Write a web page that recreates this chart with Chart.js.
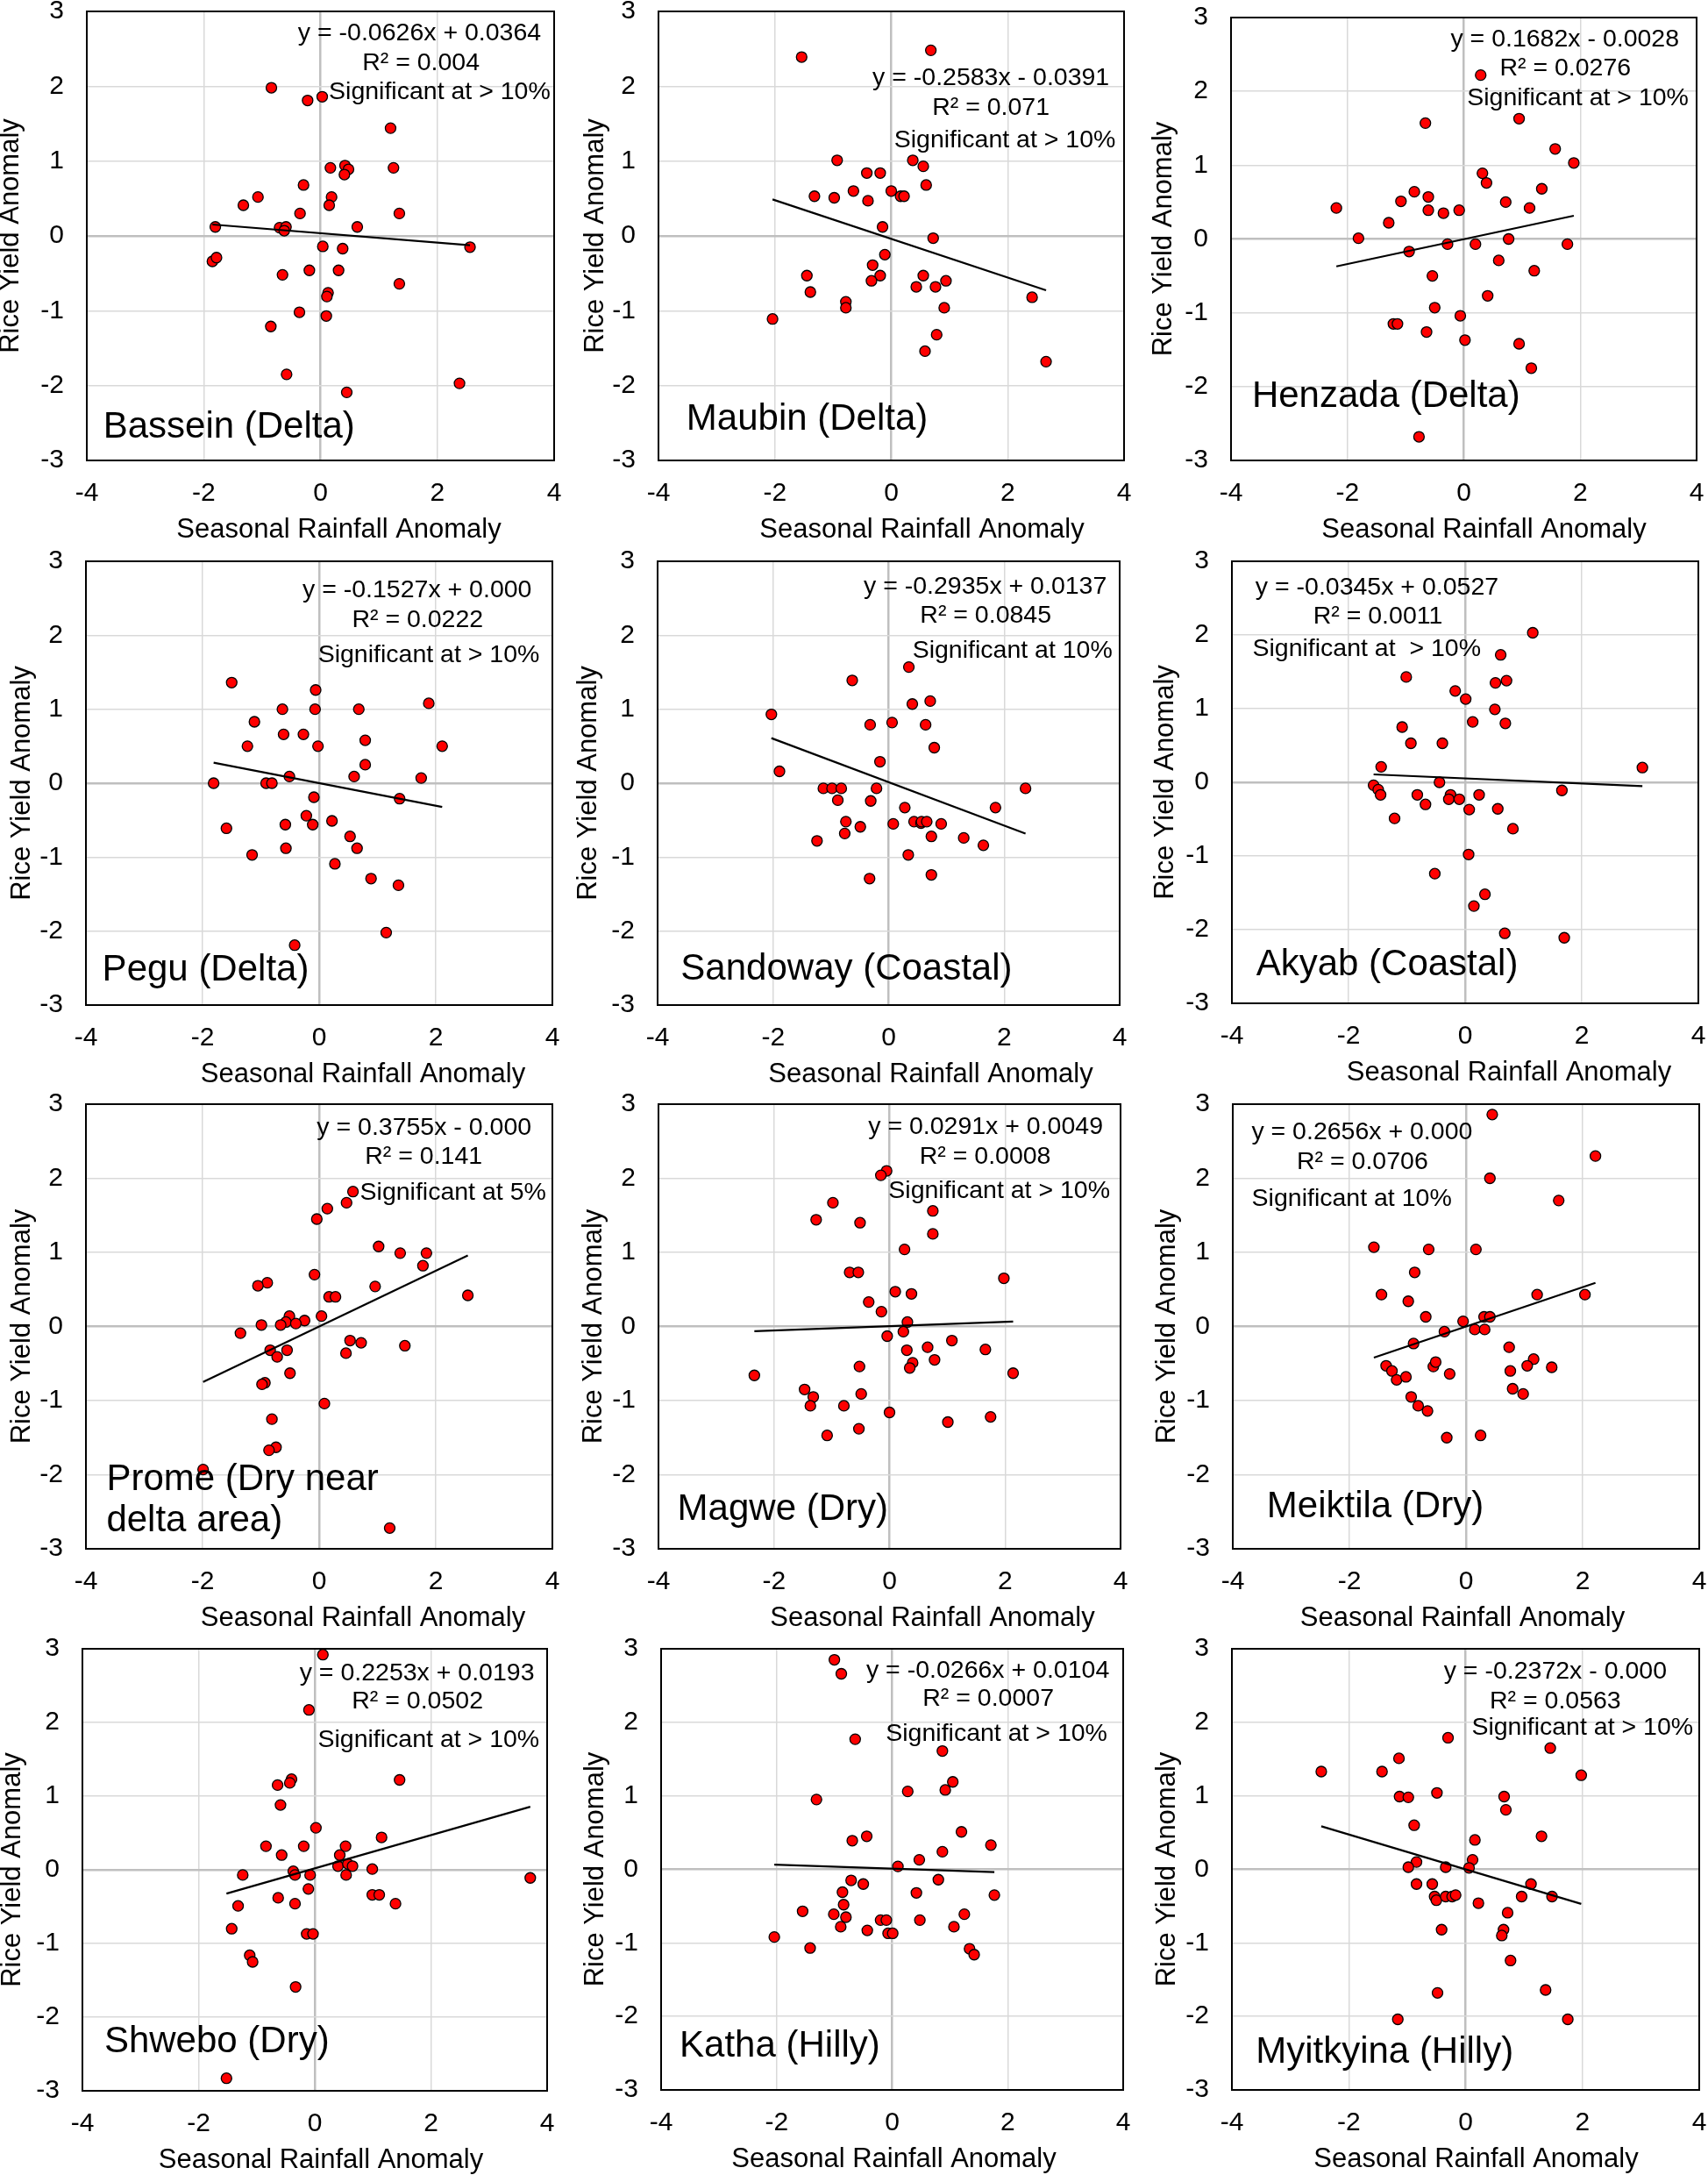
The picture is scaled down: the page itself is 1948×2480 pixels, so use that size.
<!DOCTYPE html>
<html>
<head>
<meta charset="utf-8">
<script src="https://cdn.jsdelivr.net/npm/chart.js@4.4.1/dist/chart.umd.min.js"></script>
<style>
body{margin:0;background:#fff;width:1948px;height:2480px;overflow:hidden;position:relative}
.cell{position:absolute}
</style>
</head>
<body>
<script>
// values: seasonal rainfall anomaly (x) vs rice yield anomaly (y)
const basseinX=[-0.84,-0.22,0.03,1.20,0.17,0.42,0.48,0.41,1.25,-0.29,-1.07,0.19,-1.32,0.15,-0.35,1.35,-1.80,-0.70,-0.59,-0.62,0.63,0.04,0.38,2.56,-1.85,-1.78,-0.65,-0.19,0.31,1.35,0.13,0.11,-0.36,0.10,-0.85,-0.58,0.45,2.38];
const basseinY=[1.98,1.81,1.86,1.44,0.91,0.94,0.89,0.82,0.91,0.68,0.52,0.52,0.41,0.41,0.30,0.30,0.12,0.11,0.12,0.07,0.12,-0.14,-0.17,-0.15,-0.34,-0.29,-0.52,-0.46,-0.46,-0.64,-0.76,-0.81,-1.02,-1.07,-1.21,-1.85,-2.09,-1.97];
const maubinX=[-1.54,0.68,-0.93,0.37,0.55,-0.42,-0.19,0.60,-0.65,0.00,-1.32,-0.98,0.16,0.22,-0.40,-0.15,0.72,-0.11,-0.32,-1.45,-0.19,0.55,-0.34,0.94,-1.39,0.43,0.76,-0.78,-0.78,0.91,-2.04,2.42,0.78,0.58,2.66];
const maubinY=[2.39,2.48,1.01,1.01,0.93,0.84,0.84,0.68,0.60,0.60,0.53,0.51,0.53,0.53,0.47,0.12,-0.03,-0.25,-0.39,-0.53,-0.53,-0.53,-0.60,-0.60,-0.75,-0.68,-0.68,-0.88,-0.96,-0.96,-1.11,-0.82,-1.32,-1.54,-1.68];
const henzadaX=[0.29,0.95,-0.66,1.57,1.89,0.32,0.39,1.34,-0.85,-0.61,-1.08,0.72,-2.19,1.13,-0.61,-0.35,-0.08,-1.29,-1.81,0.77,-0.28,0.20,1.78,-0.94,0.60,1.21,-0.54,0.41,-0.50,-0.06,-1.21,-1.14,-0.64,0.02,0.95,1.16,-0.77];
const henzadaY=[2.22,1.63,1.57,1.22,1.03,0.89,0.76,0.68,0.64,0.57,0.51,0.50,0.42,0.42,0.39,0.35,0.39,0.22,0.01,0.00,-0.07,-0.07,-0.07,-0.17,-0.29,-0.43,-0.50,-0.77,-0.93,-1.04,-1.15,-1.15,-1.26,-1.37,-1.42,-1.75,-2.68];
const peguX=[-1.50,-0.06,1.88,-0.63,-0.07,0.68,-1.11,-0.61,-0.27,0.79,-1.23,-0.02,2.11,0.79,-0.51,0.60,1.75,-1.81,-0.91,-0.81,-0.09,1.38,-0.22,0.22,-1.59,-0.58,-0.11,0.53,-0.57,0.65,-1.15,0.27,0.89,1.36,1.15,-0.42];
const peguY=[1.36,1.26,1.08,1.00,1.00,1.00,0.83,0.66,0.66,0.58,0.50,0.50,0.50,0.25,0.09,0.09,0.07,0.00,0.00,0.00,-0.19,-0.21,-0.44,-0.51,-0.61,-0.56,-0.56,-0.72,-0.88,-0.88,-0.97,-1.09,-1.29,-1.38,-2.02,-2.19];
const sandowayX=[0.35,-0.63,0.72,0.41,-2.03,-0.32,0.06,0.64,0.79,-0.15,-1.89,-1.13,-0.98,-0.82,-0.21,2.37,-0.88,-0.31,0.28,1.85,-0.74,0.44,0.56,0.57,0.66,0.08,0.91,-0.49,-0.76,0.74,1.30,-1.24,1.64,0.34,-0.33,0.74];
const sandowayY=[1.57,1.39,1.11,1.07,0.93,0.79,0.82,0.79,0.48,0.29,0.16,-0.07,-0.07,-0.07,-0.07,-0.07,-0.23,-0.24,-0.33,-0.33,-0.52,-0.52,-0.54,-0.52,-0.52,-0.55,-0.55,-0.59,-0.68,-0.72,-0.74,-0.78,-0.84,-0.97,-1.29,-1.24];
const akyabX=[1.16,0.61,-1.01,0.52,0.71,-0.17,0.01,0.51,0.13,0.69,-1.08,-0.93,-0.39,-1.44,3.04,-0.44,-1.57,-1.49,-1.45,-0.82,-0.25,0.24,-0.28,-0.10,-0.68,0.07,0.56,1.66,-1.21,0.82,0.06,-0.52,0.34,0.15,0.68,1.70];
const akyabY=[2.03,1.73,1.43,1.35,1.38,1.24,1.13,0.99,0.82,0.80,0.75,0.53,0.53,0.21,0.20,0.00,-0.04,-0.10,-0.17,-0.17,-0.17,-0.17,-0.23,-0.23,-0.30,-0.37,-0.36,-0.11,-0.49,-0.63,-0.98,-1.24,-1.52,-1.68,-2.05,-2.11];
const promeX=[0.58,0.47,0.14,-0.04,1.02,1.39,1.84,1.78,-0.08,-0.89,-1.05,0.96,2.55,0.17,0.28,-0.51,0.04,-0.25,-0.57,-0.99,-0.66,-0.40,-1.35,0.53,0.72,1.47,-0.84,-0.55,0.46,-0.72,-0.50,-0.93,-0.98,0.09,-0.81,-0.74,-0.86,-1.99,1.21];
const promeY=[1.82,1.67,1.59,1.45,1.08,0.99,0.99,0.82,0.70,0.59,0.55,0.54,0.42,0.40,0.40,0.14,0.14,0.08,0.06,0.02,0.02,0.04,-0.09,-0.19,-0.22,-0.26,-0.32,-0.32,-0.36,-0.41,-0.63,-0.76,-0.78,-1.04,-1.25,-1.63,-1.67,-1.93,-2.72];
const magweX=[-0.05,-0.15,-0.98,0.75,-1.27,-0.51,0.75,0.26,-0.69,-0.54,1.98,0.10,0.38,-0.36,-0.14,0.31,0.24,-0.04,1.08,0.30,0.66,1.66,0.78,0.40,0.35,-0.52,-2.34,2.14,-1.47,-1.32,-1.37,-0.49,-0.79,0.00,1.75,1.01,-0.53,-1.08];
const magweY=[2.10,2.04,1.67,1.56,1.44,1.40,1.25,1.04,0.73,0.73,0.65,0.47,0.44,0.33,0.20,0.06,-0.07,-0.13,-0.19,-0.32,-0.28,-0.31,-0.45,-0.49,-0.56,-0.54,-0.66,-0.63,-0.85,-0.95,-1.07,-0.91,-1.07,-1.16,-1.22,-1.29,-1.38,-1.47];
const meiktilaX=[0.45,2.22,0.41,1.59,-1.58,-0.64,0.17,-0.88,-1.45,1.22,2.04,-0.99,-0.69,0.31,0.41,-0.05,-0.37,0.15,0.32,-0.90,0.74,-1.37,-1.27,-1.19,-1.03,-0.56,-0.52,-0.28,0.76,1.16,1.05,1.47,0.80,0.98,-0.94,-0.82,-0.66,-0.33,0.25];
const meiktilaY=[2.86,2.30,2.00,1.70,1.07,1.04,1.04,0.73,0.43,0.43,0.43,0.34,0.13,0.13,0.13,0.07,-0.07,-0.04,-0.04,-0.23,-0.28,-0.53,-0.60,-0.72,-0.68,-0.54,-0.48,-0.64,-0.60,-0.44,-0.53,-0.55,-0.84,-0.91,-0.95,-1.07,-1.14,-1.50,-1.47];
const shweboX=[0.14,-0.10,1.46,-0.40,-0.43,-0.64,-0.59,0.02,1.15,-0.84,-0.19,0.53,-0.57,0.43,0.40,0.57,0.65,0.99,-0.37,-0.34,-1.24,-0.08,0.54,3.71,-0.11,-0.63,0.99,1.11,-1.32,-0.34,1.39,-1.43,-0.14,-0.03,-1.12,-1.07,-0.33,-1.52];
const shweboY=[2.92,2.17,1.22,1.23,1.18,1.15,0.88,0.57,0.44,0.32,0.32,0.32,0.20,0.20,0.05,0.08,0.05,0.01,-0.02,-0.07,-0.07,-0.07,-0.07,-0.11,-0.26,-0.38,-0.34,-0.34,-0.49,-0.46,-0.46,-0.80,-0.87,-0.87,-1.16,-1.25,-1.59,-2.83];
const kathaX=[-1.00,-0.88,-0.64,0.87,1.05,0.27,0.92,-1.31,1.20,-0.44,-0.69,1.71,0.87,0.47,0.10,-0.71,-0.50,0.80,-0.86,0.42,1.77,-0.84,-1.55,-1.01,-0.80,-0.20,-0.10,0.48,1.25,-0.89,-0.43,-0.07,0.01,1.07,-2.04,-1.42,1.34,1.42];
const kathaY=[2.85,2.66,1.77,1.61,1.19,1.06,1.08,0.95,0.51,0.45,0.39,0.33,0.24,0.13,0.04,-0.15,-0.20,-0.14,-0.31,-0.32,-0.35,-0.48,-0.57,-0.61,-0.65,-0.69,-0.69,-0.69,-0.61,-0.78,-0.83,-0.87,-0.87,-0.78,-0.92,-1.07,-1.08,-1.16];
const myitkyinaX=[-0.30,1.45,-1.14,-2.47,-1.43,1.98,-0.49,-1.13,-0.98,0.66,0.69,-0.88,1.30,0.16,0.12,-0.84,-0.98,-0.34,0.06,-0.84,-0.57,1.12,-0.53,-0.50,-0.34,-0.23,-0.17,0.96,1.48,0.22,0.72,-0.41,0.65,0.62,0.77,-0.48,1.37,-1.16,1.75];
const myitkyinaY=[1.79,1.65,1.51,1.33,1.33,1.28,1.04,0.99,0.98,0.99,0.81,0.60,0.45,0.40,0.13,0.10,0.03,0.03,0.02,-0.20,-0.20,-0.20,-0.37,-0.42,-0.37,-0.37,-0.35,-0.37,-0.37,-0.46,-0.59,-0.82,-0.82,-0.90,-1.24,-1.68,-1.64,-2.04,-2.04];

const stationNames=[['Bassein (Delta)'],['Maubin (Delta)'],['Henzada (Delta)'],['Pegu (Delta)'],['Sandoway (Coastal)'],['Akyab (Coastal)'],['Prome (Dry near','delta area)'],['Magwe (Dry)'],['Meiktila (Dry)'],['Shwebo (Dry)'],['Katha (Hilly)'],['Myitkyina (Hilly)']];
const rainX=[basseinX,maubinX,henzadaX,peguX,sandowayX,akyabX,promeX,magweX,meiktilaX,shweboX,kathaX,myitkyinaX];
const yieldY=[basseinY,maubinY,henzadaY,peguY,sandowayY,akyabY,promeY,magweY,meiktilaY,shweboY,kathaY,myitkyinaY];
// linear trendlines as printed on each panel
const slopes=[-0.0626,-0.2583,0.1682,-0.1527,-0.2935,-0.0345,0.3755,0.0291,0.2656,0.2253,-0.0266,-0.2372];
const intercepts=[0.0364,-0.0391,-0.0028,0.000,0.0137,0.0527,-0.000,0.0049,0.000,0.0193,0.0104,-0.000];
const eqLabels=['y = -0.0626x + 0.0364','y = -0.2583x - 0.0391','y = 0.1682x - 0.0028','y = -0.1527x + 0.000','y = -0.2935x + 0.0137','y = -0.0345x + 0.0527','y = 0.3755x - 0.000','y = 0.0291x + 0.0049','y = 0.2656x + 0.000','y = 0.2253x + 0.0193','y = -0.0266x + 0.0104','y = -0.2372x - 0.000'];
const r2Labels=['R² = 0.004','R² = 0.071','R² = 0.0276','R² = 0.0222','R² = 0.0845','R² = 0.0011','R² = 0.141','R² = 0.0008','R² = 0.0706','R² = 0.0502','R² = 0.0007','R² = 0.0563'];
const sigLabels=['Significant at > 10%','Significant at > 10%','Significant at > 10%','Significant at > 10%','Significant at 10%','Significant at  > 10%','Significant at 5%','Significant at > 10%','Significant at 10%','Significant at > 10%','Significant at > 10%','Significant at > 10%'];
const xTitle='Seasonal Rainfall Anomaly';
const yTitle='Rice Yield Anomaly';

// layout: plot rectangles on the page [left, top, right, bottom]
const boxes=[[99,13,632,525],[751,13,1282,525],[1404,20,1935,525],
 [98,640,630,1146],[750,640,1277,1146],[1405,640,1937,1144],
 [98,1259,630,1766],[751,1259,1278,1766],[1406,1259,1938,1766],
 [94,1880,624,2384],[754,1880,1281,2383],[1405,1880,1938,2383]];
const yTitleGap=[87,72,77,73,79,76,73,74,75,80,75,74];
const xTitleShift=[21,35,23,50,48,50,50,49,-4,7,2,12];
// text positions as fractions of the plot box: eq, r2, sig centers, name left + line centers
const textPos=[
 {eq:[0.712,0.05],r2:[0.715,0.116],sig:[0.755,0.179],name:[0.035,[0.927]]},
 {eq:[0.714,0.148],r2:[0.714,0.215],sig:[0.744,0.287],name:[0.060,[0.91]]},
 {eq:[0.717,0.049],r2:[0.718,0.116],sig:[0.745,0.182],name:[0.045,[0.856]]},
 {eq:[0.71,0.066],r2:[0.711,0.133],sig:[0.735,0.211],name:[0.035,[0.922]]},
 {eq:[0.709,0.057],r2:[0.71,0.123],sig:[0.768,0.201],name:[0.05,[0.92]]},
 {eq:[0.311,0.059],r2:[0.313,0.125],sig:[0.289,0.199],name:[0.052,[0.914]]},
 {eq:[0.725,0.054],r2:[0.724,0.118],sig:[0.787,0.199],name:[0.044,[0.845,0.938]]},
 {eq:[0.708,0.052],r2:[0.707,0.118],sig:[0.7375,0.195],name:[0.041,[0.913]]},
 {eq:[0.277,0.064],r2:[0.278,0.13],sig:[0.255,0.213],name:[0.073,[0.907]]},
 {eq:[0.72,0.055],r2:[0.721,0.12],sig:[0.745,0.206],name:[0.047,[0.89]]},
 {eq:[0.707,0.049],r2:[0.708,0.113],sig:[0.726,0.194],name:[0.04,[0.902]]},
 {eq:[0.692,0.052],r2:[0.692,0.119],sig:[0.75,0.18],name:[0.051,[0.916]]}
];

const FONT='"Liberation Sans", Arial, sans-serif';
const W=110,H=96,PT=20,PR=30;

const frame={id:'frame',afterDraw(c){
  const a=c.chartArea,ctx=c.ctx;
  ctx.save();
  ctx.strokeStyle='#000';ctx.lineWidth=2;
  ctx.strokeRect(a.left,a.top,a.right-a.left,a.bottom-a.top);
  ctx.restore();
}};
const notes={id:'notes',afterDatasetsDraw(c,args,o){
  const a=c.chartArea,ctx=c.ctx,p=textPos[o.i];
  const w=a.right-a.left,h=a.bottom-a.top;
  ctx.save();
  ctx.fillStyle='#000';ctx.textBaseline='middle';ctx.textAlign='center';
  ctx.font='28.5px '+FONT;
  ctx.fillText(eqLabels[o.i],a.left+p.eq[0]*w,a.top+p.eq[1]*h);
  ctx.fillText(r2Labels[o.i],a.left+p.r2[0]*w,a.top+p.r2[1]*h);
  ctx.fillText(sigLabels[o.i],a.left+p.sig[0]*w,a.top+p.sig[1]*h);
  // x axis title, set off-centre as in the figure
  ctx.font='31px '+FONT;
  ctx.fillText(xTitle,(a.left+a.right)/2+xTitleShift[o.i],a.bottom+79);
  ctx.textAlign='left';ctx.font='42px '+FONT;
  stationNames[o.i].forEach((line,k)=>{
    ctx.fillText(line,a.left+p.name[0]*w,a.top+p.name[1][k]*h);
  });
  ctx.restore();
}};

const gridColor=ctx=>ctx.tick&&ctx.tick.value===0?'#bfbfbf':'#d9d9d9';
const gridWidth=ctx=>ctx.tick&&ctx.tick.value===0?2.5:1.5;

function build(i){
  const [L,T,R,B]=boxes[i];
  const div=document.createElement('div');
  div.className='cell';
  div.style.left=(L-W)+'px';
  div.style.top=(T-PT)+'px';
  div.style.width=(W+R-L+PR)+'px';
  div.style.height=(PT+B-T+H)+'px';
  const cv=document.createElement('canvas');
  div.appendChild(cv);
  document.body.appendChild(div);

  const xs=rainX[i],ys=yieldY[i];
  const pts=xs.map((x,k)=>({x:x,y:ys[k]}));
  const x0=Math.min(...xs),x1=Math.max(...xs);
  const trend=[x0,x1].map(x=>({x:x,y:slopes[i]*x+intercepts[i]}));

  new Chart(cv,{
    type:'scatter',
    data:{datasets:[
      {data:trend,showLine:true,borderColor:'#000',borderWidth:2.2,pointRadius:0,fill:false,order:0},
      {data:pts,backgroundColor:'#ff0000',borderColor:'#000',borderWidth:1.3,pointRadius:6,order:1}
    ]},
    options:{
      responsive:true,maintainAspectRatio:false,animation:false,
      layout:{padding:{top:PT,right:PR,left:0,bottom:0}},
      plugins:{legend:{display:false},tooltip:{enabled:false},notes:{i:i}},
      scales:{
        x:{type:'linear',min:-4,max:4,
          ticks:{stepSize:2,padding:20,color:'#000',font:{size:30,family:FONT}},
          grid:{drawTicks:false,color:gridColor,lineWidth:gridWidth},
          border:{display:false},
          title:{display:false},
          afterFit:s=>{s.height=H;s.paddingLeft=0;s.paddingRight=0;}
        },
        y:{type:'linear',min:-3,max:3,
          ticks:{stepSize:1,padding:26,color:'#000',font:{size:30,family:FONT}},
          grid:{drawTicks:false,color:gridColor,lineWidth:gridWidth},
          border:{display:false},
          title:{display:true,text:yTitle,color:'#000',font:{size:31,family:FONT,lineHeight:1.2},padding:{top:92-yTitleGap[i],bottom:0}},
          afterFit:s=>{s.width=W;s.paddingTop=0;s.paddingBottom=0;}
        }
      }
    },
    plugins:[frame,notes]
  });
}

for(let i=0;i<12;i++) build(i);
</script>
</body>
</html>
